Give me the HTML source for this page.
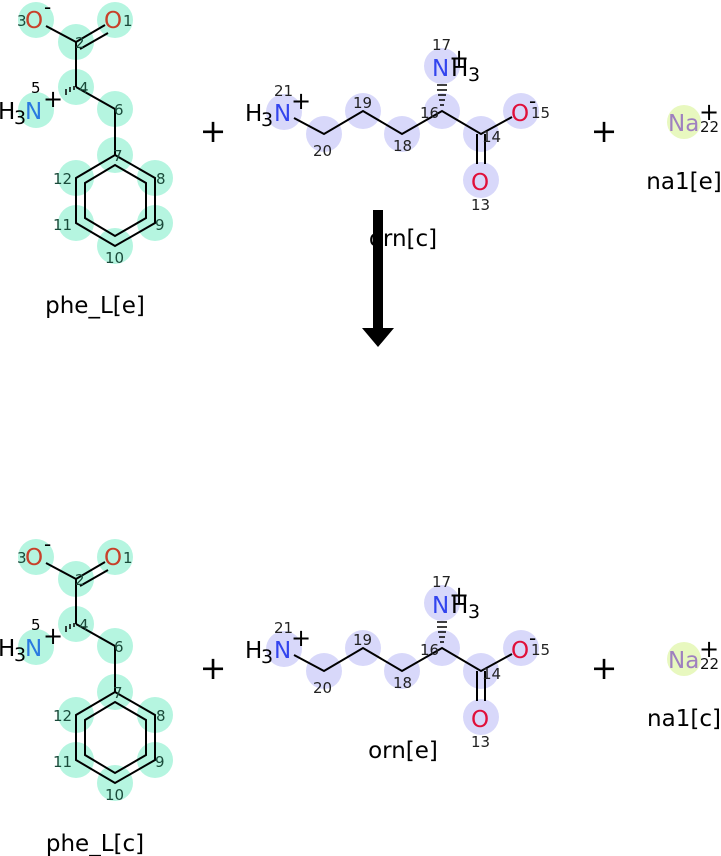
<!DOCTYPE html>
<html><head><meta charset="utf-8"><style>
html,body{margin:0;padding:0;background:#fff;}
svg{display:block;font-family:"DejaVu Sans","Liberation Sans",sans-serif;}
.n{font-size:15px;fill:#222}
.pn{font-size:15px;fill:#1a4a3a}
.lbl{font-family:"DejaVu Sans","Liberation Sans",sans-serif;font-size:23px}
</style></head><body>
<svg width="721" height="856" viewBox="0 0 721 856" xmlns="http://www.w3.org/2000/svg">
<defs>
<g id="phe">
  <g fill="#b5f5e0">
    <circle cx="36" cy="20" r="18"/><circle cx="115" cy="20" r="18"/>
    <circle cx="76" cy="42" r="18"/><circle cx="76" cy="87" r="18"/>
    <circle cx="36" cy="110" r="18"/><circle cx="115" cy="109" r="18"/>
    <circle cx="115" cy="155" r="18"/><circle cx="155" cy="178" r="18"/>
    <circle cx="155" cy="223" r="18"/><circle cx="115" cy="246" r="18"/>
    <circle cx="76" cy="223" r="18"/><circle cx="76" cy="178" r="18"/>
  </g>
  <g stroke="#000" stroke-width="2" fill="none">
    <line x1="46" y1="26" x2="76" y2="42"/>
    <line x1="76" y1="42" x2="105" y2="25"/><line x1="80" y1="49" x2="108" y2="33"/>
    <line x1="76" y1="42" x2="76" y2="87"/>
    <line x1="76" y1="87" x2="115" y2="109"/>
    <line x1="115" y1="109" x2="115" y2="155"/>
    <polygon points="115,155 155,178 155,223 115,246 76,223 76,178"/>
    <polygon points="115,165 146,183 146,218 115,236 85,218 85,183"/>
  </g>
  <g stroke="#000" stroke-width="1.5">
    <line x1="74" y1="86" x2="74" y2="90"/><line x1="70" y1="87" x2="70" y2="92"/><line x1="66" y1="89" x2="66" y2="95"/>
  </g>
  <text x="25" y="28" font-size="23" fill="#c8402a">O</text>
  <text x="104" y="28" font-size="23" fill="#c8402a">O</text>
  <text x="44" y="14" font-size="20" fill="#000">-</text>
  <text x="25" y="119" font-size="23" fill="#2a7ae0">N</text>
  <text x="-2" y="119" font-size="23" fill="#000">H</text>
  <text x="14" y="124" font-size="19" fill="#000">3</text>
  <text x="43" y="107" font-size="24" fill="#000">+</text>
  <g class="pn">
    <text x="17" y="26">3</text><text x="123" y="26">1</text>
    <text x="75" y="48">2</text><text x="79" y="93">4</text>
    <text x="31" y="93" fill="#000">5</text><text x="114" y="115">6</text>
    <text x="113" y="161">7</text><text x="156" y="184">8</text>
    <text x="155" y="230">9</text><text x="105" y="263">10</text>
    <text x="53" y="230">11</text><text x="53" y="184">12</text>
  </g>
</g>
<g id="orn">
  <g fill="#d8d8fa">
    <circle cx="284" cy="112" r="18"/><circle cx="324" cy="134" r="18"/>
    <circle cx="363" cy="111" r="18"/><circle cx="402" cy="134" r="18"/>
    <circle cx="442" cy="111" r="18"/><circle cx="481" cy="134" r="18"/>
    <circle cx="521" cy="111" r="18"/><circle cx="481" cy="180" r="18"/>
    <circle cx="442" cy="66" r="18"/>
  </g>
  <g stroke="#000" stroke-width="2" fill="none">
    <polyline points="294,118 324,134 363,111 402,134 442,111 481,134 512,117"/>
    <line x1="477" y1="134" x2="477" y2="164"/><line x1="485" y1="134" x2="485" y2="164"/>
  </g>
  <g stroke="#000" stroke-width="1.5">
    <line x1="440" y1="105" x2="444" y2="105"/><line x1="439" y1="100" x2="445" y2="100"/>
    <line x1="438" y1="95" x2="446" y2="95"/><line x1="437" y1="90" x2="447" y2="90"/>
    <line x1="437" y1="85" x2="447" y2="85"/>
  </g>
  <text x="274" y="121" font-size="23" fill="#3344ee">N</text>
  <text x="245" y="121" font-size="23" fill="#000">H</text>
  <text x="261" y="126" font-size="19" fill="#000">3</text>
  <text x="291" y="109" font-size="24" fill="#000">+</text>
  <text x="432" y="76" font-size="23" fill="#3344ee">N</text>
  <text x="451" y="76" font-size="23" fill="#000">H</text>
  <text x="468" y="81" font-size="19" fill="#000">3</text>
  <text x="449" y="66" font-size="24" fill="#000">+</text>
  <text x="511" y="121" font-size="23" fill="#e0103a">O</text>
  <text x="529" y="108" font-size="20" fill="#000">-</text>
  <text x="471" y="190" font-size="23" fill="#e0103a">O</text>
  <g class="n" fill="#111">
    <text x="274" y="96">21</text><text x="313" y="156">20</text>
    <text x="353" y="108">19</text><text x="393" y="151">18</text>
    <text x="420" y="118">16</text><text x="482" y="142">14</text>
    <text x="531" y="118">15</text><text x="471" y="210">13</text>
    <text x="432" y="50">17</text>
  </g>
</g>
<g id="na">
  <circle cx="684" cy="122" r="17" fill="#e8f8bf"/>
  <text x="668" y="131" font-size="23" fill="#9f80bf">Na</text>
  <text x="699" y="120" font-size="24" fill="#000">+</text>
  <text x="700" y="132" font-size="15" fill="#111">22</text>
</g>
</defs>

<use href="#phe"/>
<use href="#orn"/>
<use href="#na"/>
<text x="213" y="142" font-size="32" text-anchor="middle">+</text>
<text x="604" y="142" font-size="32" text-anchor="middle">+</text>
<text x="95" y="313" class="lbl" text-anchor="middle">phe_L[e]</text>
<text x="403" y="246" class="lbl" text-anchor="middle">orn[c]</text>
<text x="684" y="189" class="lbl" text-anchor="middle">na1[e]</text>

<rect x="373" y="210" width="10" height="122" fill="#000"/>
<polygon points="362,328 394,328 378,347" fill="#000"/>

<g transform="translate(0,537)">
<use href="#phe"/>
<use href="#orn"/>
<use href="#na"/>
<text x="213" y="142" font-size="32" text-anchor="middle">+</text>
<text x="604" y="142" font-size="32" text-anchor="middle">+</text>
<text x="95" y="314" class="lbl" text-anchor="middle">phe_L[c]</text>
<text x="403" y="221" class="lbl" text-anchor="middle">orn[e]</text>
<text x="684" y="189" class="lbl" text-anchor="middle">na1[c]</text>
</g>
</svg>
</body></html>
